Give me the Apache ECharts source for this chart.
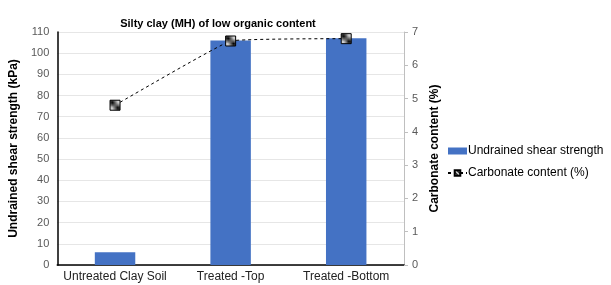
<!DOCTYPE html>
<html><head><meta charset="utf-8">
<script src="https://cdn.jsdelivr.net/npm/echarts@6/dist/echarts.min.js"></script>
<style>html,body{margin:0;padding:0;background:#fff}#c{width:611px;height:285px}</style>
</head><body><div id="c"></div>
<script>
const categories = ['Untreated Clay Soil', 'Treated -Top', 'Treated -Bottom'];
const shearStrength = [6, 106, 107];
const carbonate = [4.8, 6.73, 6.8];
const leftTicks = [0, 110, 10];
const rightTicks = [0, 7, 1];

function makePattern() {
  const c = document.createElement('canvas');
  c.width = 8; c.height = 8;
  const g = c.getContext('2d');
  g.fillStyle = '#fff'; g.fillRect(0, 0, 8, 8);
  g.strokeStyle = '#000'; g.lineWidth = 1.5;
  for (let k = -8; k <= 16; k += 4) {
    g.beginPath(); g.moveTo(k, 0); g.lineTo(k + 8, 8); g.stroke();
  }
  return c;
}
const pat = { image: makePattern(), repeat: 'repeat' };

const chart = echarts.init(document.getElementById('c'), null, { renderer: 'canvas' });
chart.setOption({
  animation: false,
  textStyle: { fontFamily: 'Liberation Sans, Arial, sans-serif' },
  title: {
    text: 'Silty clay (MH) of low organic content',
    left: 213, top: 13, textAlign: 'center',
    textStyle: { fontSize: 11, fontWeight: 'bold', color: '#000' }
  },
  legend: {
    orient: 'vertical', left: 442, top: 140, itemGap: 10,
    itemWidth: 19, itemHeight: 7,
    textStyle: { fontSize: 12, color: '#000', padding: [0, 0, 0, -4] },
    data: [
      { name: 'Undrained shear strength', icon: 'rect' },
      { name: 'Carbonate content (%)' }
    ]
  },
  grid: { left: 50, right: 207, top: 32, bottom: 20 },
  xAxis: {
    type: 'category', data: categories,
    axisLine: { lineStyle: { color: '#000', width: 1.5 } },
    axisTick: { show: false },
    axisLabel: { fontSize: 12, color: '#222', margin: 6, interval: 0 }
  },
  yAxis: [
    {
      type: 'value', min: leftTicks[0], max: leftTicks[1], interval: leftTicks[2],
      name: 'Undrained shear strength (kPa)', nameLocation: 'middle', nameGap: 31,
      nameTextStyle: { fontSize: 12, fontWeight: 'bold', color: '#000' },
      axisLine: { show: true, lineStyle: { color: '#000', width: 1.5 } },
      axisTick: { show: false },
      axisLabel: { fontSize: 11, color: '#595959', margin: 8 },
      splitLine: { lineStyle: { color: '#e6e6e6' } }
    },
    {
      type: 'value', min: rightTicks[0], max: rightTicks[1], interval: rightTicks[2],
      name: 'Carbonate content (%)', nameLocation: 'middle', nameGap: 24,
      nameRotate: 90,
      nameTextStyle: { fontSize: 12, fontWeight: 'bold', color: '#000' },
      axisLine: { show: true, lineStyle: { color: '#bfbfbf' } },
      axisTick: { show: true, length: 4, lineStyle: { color: '#bfbfbf' } },
      axisLabel: { fontSize: 11, color: '#595959', margin: 8 },
      splitLine: { show: false }
    }
  ],
  series: [
    {
      name: 'Undrained shear strength', type: 'bar', data: shearStrength,
      barWidth: '35%', itemStyle: { color: '#4472C4' }
    },
    {
      name: 'Carbonate content (%)', type: 'line', yAxisIndex: 1, data: carbonate,
      smooth: 0.08,
      lineStyle: { color: '#000', width: 1, type: [3, 3] },
      symbol: 'rect', symbolSize: 10,
      itemStyle: { color: pat, borderColor: '#000', borderWidth: 1 }
    }
  ]
});
</script></body></html>
